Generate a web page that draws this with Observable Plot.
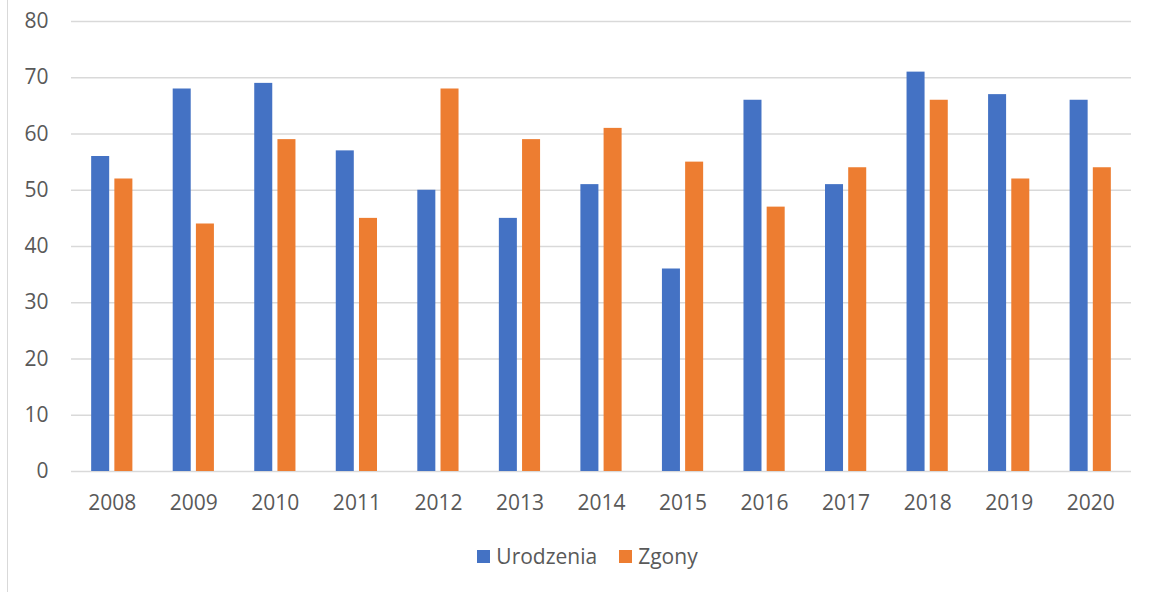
<!DOCTYPE html>
<html>
<head>
<meta charset="utf-8">
<script src="https://cdn.jsdelivr.net/npm/d3@7"></script>
<script src="https://cdn.jsdelivr.net/npm/@observablehq/plot@0.6"></script>
<style>
  html, body { margin: 0; padding: 0; background: #fff; }
  #wrap { position: relative; width: 1155px; height: 592px; overflow: hidden; font-family: "Open Sans", sans-serif; }
  #frame { position: absolute; left: 7px; top: 0; width: 1px; height: 592px; background: #d9d9d9; }
  #legend { display: flex; justify-content: center; align-items: center; gap: 22px; padding-left: 20px; height: 52px; padding-top: 0px; color: #595959; font-size: 21px; }
  .item { display: flex; align-items: center; gap: 6px; }
  .sw { width: 13px; height: 13px; display: inline-block; }
  svg { display: block; }
</style>
</head>
<body>
<div id="wrap"><div id="frame"></div><div id="chart"></div><div id="legend"></div></div>
<script>
const years = ["2008","2009","2010","2011","2012","2013","2014","2015","2016","2017","2018","2019","2020"];
const urodzenia = [56, 68, 69, 57, 50, 45, 51, 36, 66, 51, 71, 67, 66];
const zgony = [52, 44, 59, 45, 68, 59, 61, 55, 47, 54, 66, 52, 54];
const seriesNames = ["Urodzenia", "Zgony"];
const seriesColors = ["#4472C4", "#ED7D31"];
const yTicks = [0, 10, 20, 30, 40, 50, 60, 70, 80];

const data = years.flatMap((y, i) => [
  {year: y, series: "Urodzenia", value: urodzenia[i]},
  {year: y, series: "Zgony", value: zgony[i]}
]);

const chart = Plot.plot({
  width: 1155,
  height: 530,
  marginLeft: 71,
  marginRight: 24,
  marginTop: 21,
  marginBottom: 59,
  style: {fontFamily: "'Open Sans', sans-serif", fontSize: "21px", color: "#595959", background: "transparent"},
  x: {domain: years, paddingInner: 0.779, paddingOuter: 0.3895, round: false, label: null},
  y: {domain: [0, 80], label: null},
  color: {domain: seriesNames, range: seriesColors},
  marks: [
    Plot.gridY(yTicks, {stroke: "#d9d9d9", strokeOpacity: 1, strokeWidth: 1.3}),
    Plot.barY(data.filter(d => d.series === "Urodzenia"), {x: "year", y: "value", fill: "series", dx: -11.6}),
    Plot.barY(data.filter(d => d.series === "Zgony"), {x: "year", y: "value", fill: "series", dx: 11.6}),
    Plot.axisY(yTicks, {tickSize: 0, tickPadding: 23, fill: "#595959", label: null}),
    Plot.axisX({tickSize: 0, tickPadding: 24, fill: "#595959", label: null})
  ]
});
document.getElementById("chart").appendChild(chart);

const legend = d3.select("#legend");
seriesNames.forEach((name, i) => {
  const item = legend.append("div").attr("class", "item");
  item.append("span").attr("class", "sw").style("background", seriesColors[i]);
  item.append("span").text(name);
});
</script>
</body>
</html>
